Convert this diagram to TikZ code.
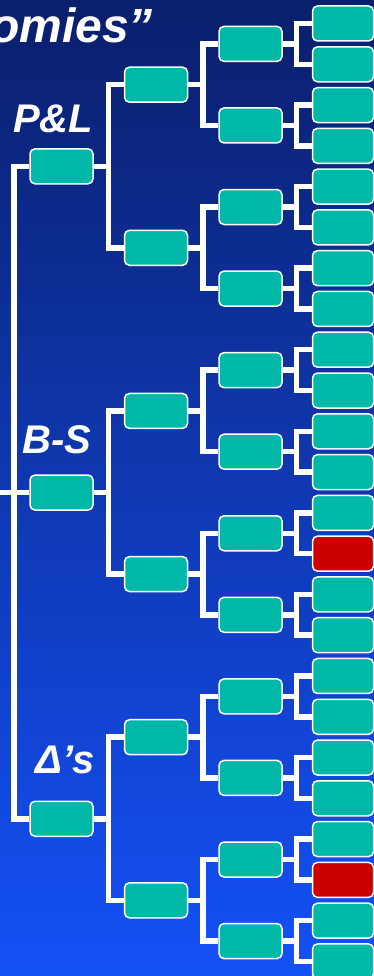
\documentclass[tikz,border=0pt]{standalone}
\usepackage{fontspec}
\setmainfont{Liberation Sans}
\definecolor{bgtop}{HTML}{0A1F6C}
\definecolor{bgmid}{HTML}{133FC8}
\definecolor{bgbot}{HTML}{1451F7}
\definecolor{tealbox}{HTML}{00B8A8}
\definecolor{redbox}{HTML}{CC0000}
\begin{document}
\begin{tikzpicture}[x=1pt,y=-1pt,
  box/.style={draw=white, line width=1.5pt, fill=tealbox, rounded corners=5pt,
    minimum width=63pt, minimum height=35pt, inner sep=0pt},
  leafbox/.style={box, minimum width=61pt},
  badbox/.style={leafbox, fill=redbox},
  link/.style={draw=white, line width=5.5pt, line join=miter},
  lab/.style={text=white, inner sep=0pt, font=\bfseries\itshape\fontsize{40}{40}\selectfont},
  titletext/.style={text=white, inner sep=0pt, font=\bfseries\itshape\fontsize{48}{48}\selectfont}]
\useasboundingbox (0,0) rectangle (374,976);
\clip (0,0) rectangle (374,976);
\shade[top color=bgtop, middle color=bgmid, bottom color=bgbot] (0,0) rectangle (374,976);

% title and labels
\node[titletext, anchor=base east] (title) at (153,43) {omies”};
\node[lab, anchor=base] (lpl) at (53,133) {P\&L};
\node[lab, anchor=base] (lbs) at (57,453) {B-S};
\node[lab, anchor=base] (ld) at (65,773) {Δ’s};

% leaves
\foreach \i in {0,...,23}{
  \ifnum\i=13 \def\st{badbox}\else\ifnum\i=21 \def\st{badbox}\else\def\st{leafbox}\fi\fi
  \node[\st] (f\i) at (343,{23.5+40.78*\i}) {};
}
% level 3
\foreach \j in {0,...,11}{
  \node[box] (t\j) at (250.5,{43.9+81.56*\j}) {};
}
% level 2
\foreach \k in {0,...,5}{
  \node[box] (s\k) at (156,{84.7+163.12*\k}) {};
}
% level 1
\foreach \m in {0,1,2}{
  \node[box] (o\m) at (61.5,{166.3+326.24*\m}) {};
}
\coordinate (root) at (-10,492.5);

% connectors
\foreach \j in {0,...,11}{
  \pgfmathtruncatemacro\a{2*\j}
  \pgfmathtruncatemacro\b{2*\j+1}
  \draw[link] (t\j.east) -| ([xshift=-15.5pt]f\a.west) -- (f\a.west);
  \draw[link] (t\j.east) -| ([xshift=-15.5pt]f\b.west) -- (f\b.west);
}
\foreach \k in {0,...,5}{
  \pgfmathtruncatemacro\a{2*\k}
  \pgfmathtruncatemacro\b{2*\k+1}
  \draw[link] (s\k.east) -| ([xshift=-15.5pt]t\a.west) -- (t\a.west);
  \draw[link] (s\k.east) -| ([xshift=-15.5pt]t\b.west) -- (t\b.west);
}
\foreach \m in {0,1,2}{
  \pgfmathtruncatemacro\a{2*\m}
  \pgfmathtruncatemacro\b{2*\m+1}
  \draw[link] (o\m.east) -| ([xshift=-15.5pt]s\a.west) -- (s\a.west);
  \draw[link] (o\m.east) -| ([xshift=-15.5pt]s\b.west) -- (s\b.west);
}
\foreach \m in {0,1,2}{
  \draw[link] (root) -| ([xshift=-15.5pt]o\m.west) -- (o\m.west);
}
\end{tikzpicture}
\end{document}
